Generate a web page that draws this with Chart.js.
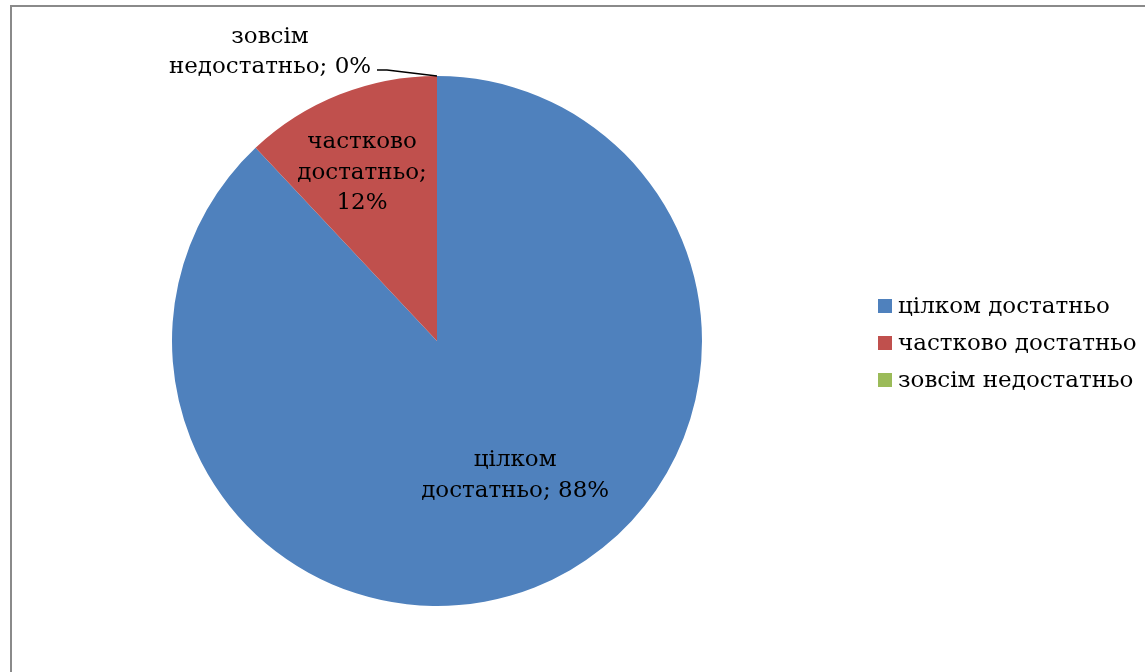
<!DOCTYPE html>
<html>
<head>
<meta charset="utf-8">
<script src="https://cdn.jsdelivr.net/npm/chart.js@4.4.0/dist/chart.umd.min.js"></script>
<style>
  html, body { margin: 0; padding: 0; background: #fff; }
  body { width: 1145px; height: 672px; overflow: hidden; position: relative; }
  #frame { position: absolute; left: 10px; top: 5px; width: 1200px; height: 700px; border-left: 2px solid #8a8a8a; border-top: 2px solid #8a8a8a; }
  #c { position: absolute; left: 0; top: 0; width: 1145px; height: 672px; }
</style>
</head>
<body>
<div id="frame"></div>
<canvas id="c" width="1145" height="672"></canvas>
<script>
const categories = ["цілком достатньо", "частково достатньо", "зовсім недостатньо"];
const values = [88, 12, 0];
const labelLines = [["цілком", "достатньо; 88%"], ["частково", "достатньо;", "12%"], ["зовсім", "недостатньо; 0%"]];
const colors = ["#4F81BD", "#C0504D", "#9BBB59"];

const FONT = '"DejaVu Serif", serif';

const labelPlugin = {
  id: 'pieLabels',
  afterDatasetsDraw(chart) {
    const ctx = chart.ctx;
    const meta = chart.getDatasetMeta(0);
    const arcs = meta.data;
    ctx.save();
    ctx.fillStyle = '#000';
    ctx.textAlign = 'center';
    ctx.textBaseline = 'middle';
    ctx.font = '23px ' + FONT;
    const lh = 30.5;
    arcs.forEach((arc, i) => {
      const { x, y, outerRadius } = arc.getProps(['x','y','outerRadius'], true);
      const r = outerRadius;
      const lines = labelLines[i];
      let cx, cy;
      if (i === 0) {
        cx = x + 0.295 * r;
        cy = y + 0.508 * r;
      } else if (i === 1) {
        cx = x - 0.283 * r;
        cy = y - 0.634 * r;
      } else {
        const px = x, py = y - r;
        cx = px - 167;
        cy = py - 24;
        ctx.strokeStyle = '#000';
        ctx.lineWidth = 1.5;
        ctx.beginPath();
        ctx.moveTo(px - 60, py - 6);
        ctx.lineTo(px - 50, py - 6);
        ctx.lineTo(px, py);
        ctx.stroke();
      }
      const n = lines.length;
      lines.forEach((t, k) => {
        ctx.fillText(t, cx, cy + (k - (n - 1) / 2) * lh);
      });
    });
    ctx.textAlign = 'left';
    ctx.font = '23px ' + FONT;
    categories.forEach((c, i) => {
      const ly = 306 + i * 37;
      ctx.fillStyle = colors[i];
      ctx.fillRect(878, ly - 7, 14, 14);
      ctx.fillStyle = '#000';
      ctx.fillText(c, 898, ly + 1);
    });
    ctx.restore();
  }
};

new Chart(document.getElementById('c'), {
  type: 'pie',
  data: {
    labels: categories,
    datasets: [{ data: values, backgroundColor: colors, borderWidth: 0 }]
  },
  options: {
    responsive: false,
    animation: false,
    devicePixelRatio: 1,
    layout: { padding: { left: 172, right: 443, top: 76, bottom: 66 } },
    plugins: { legend: { display: false }, tooltip: { enabled: false } }
  },
  plugins: [labelPlugin]
});
</script>
</body>
</html>
